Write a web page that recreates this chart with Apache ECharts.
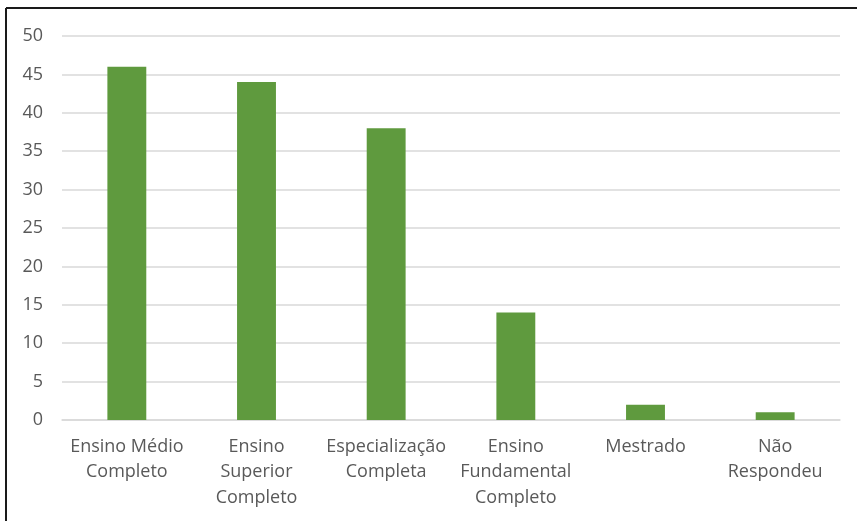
<!DOCTYPE html>
<html><head><meta charset="utf-8">
<script src="https://cdn.jsdelivr.net/npm/echarts@6/dist/echarts.min.js"></script>
<style>html,body{margin:0;padding:0;background:#fff}#c{width:857px;height:521px}</style>
</head><body><div id="c"></div>
<script>
const categories = ["Ensino Médio\nCompleto", "Ensino\nSuperior\nCompleto", "Especialização\nCompleta", "Ensino\nFundamental\nCompleto", "Mestrado", "Não\nRespondeu"];
const values = [46, 44, 38, 14, 2, 1];
const yMin = 0, yMax = 50, yStep = 5;

const chart = echarts.init(document.getElementById('c'), null, {renderer: 'canvas'});
chart.setOption({
  animation: false,
  backgroundColor: '#fff',
  textStyle: {fontFamily: 'Open Sans'},
  grid: {left: 62, right: 17, top: 36, bottom: 101},
  graphic: [
    {type: 'line', shape: {x1: 6, y1: 8, x2: 857, y2: 8}, style: {stroke: '#1a1a1a', lineWidth: 2}},
    {type: 'line', shape: {x1: 6, y1: 8, x2: 6, y2: 521}, style: {stroke: '#1a1a1a', lineWidth: 2}}
  ],
  xAxis: {
    type: 'category', data: categories,
    axisLine: {lineStyle: {color: '#d9d9d9', width: 1.5}},
    axisTick: {show: false},
    axisLabel: {color: '#595959', fontSize: 18, lineHeight: 25.5, margin: 14, interval: 0, fontFamily: 'Open Sans'}
  },
  yAxis: {
    type: 'value', min: yMin, max: yMax, interval: yStep,
    axisLine: {show: false}, axisTick: {show: false},
    splitLine: {lineStyle: {color: '#d9d9d9', width: 1.5}},
    axisLabel: {color: '#595959', fontSize: 18, margin: 19, fontFamily: 'Open Sans'}
  },
  series: [{
    type: 'bar', data: values, barWidth: '30%',
    itemStyle: {color: '#5f9a3e'}
  }]
});
</script></body></html>
